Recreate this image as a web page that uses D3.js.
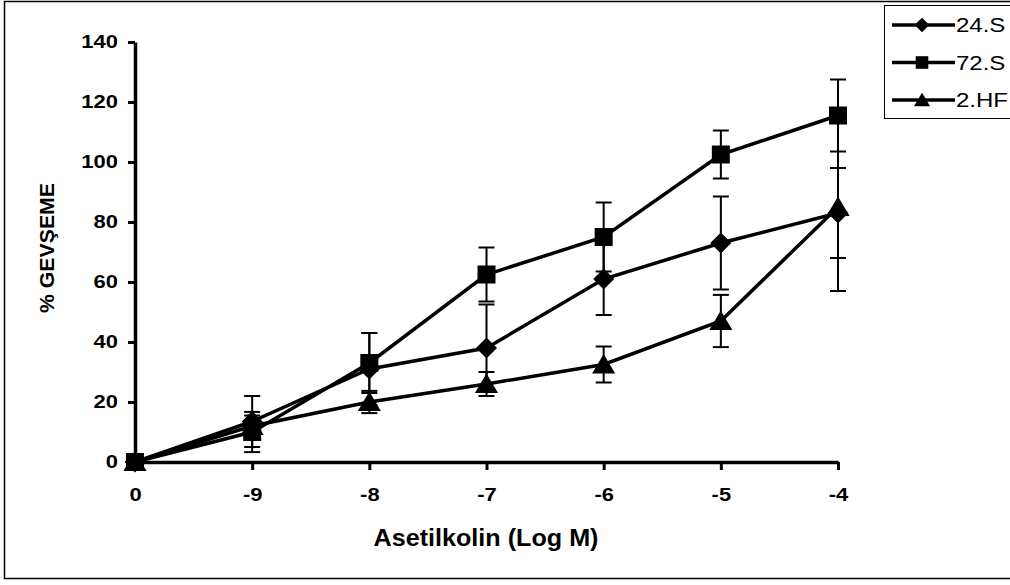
<!DOCTYPE html>
<html>
<head>
<meta charset="utf-8">
<script src="https://cdn.jsdelivr.net/npm/d3@7"></script>
<style>
  body { margin: 0; background: #fff; }
  svg { display: block; font-family: "Liberation Sans", Arial, sans-serif; }
</style>
</head>
<body>
<div id="chart"></div>
<script>
// data
var categories = ["0", "-9", "-8", "-7", "-6", "-5", "-4"];
var yTicks = [0, 20, 40, 60, 80, 100, 120, 140];
var seriesNames = ["24.S", "72.S", "2.HF"];
var s24 = [0, 13.5, 31, 38, 61, 73, 83];
var s24Err = [0, 8.5, 12, 14.5, 12, 15.5, 15];
var s72 = [0, 10, 33, 62.5, 75, 102.5, 115.5];
var s72Err = [0, 6.7, 10, 9, 11.5, 8, 12];
var sHF = [0, 12, 20, 26, 32.5, 47, 85];
var sHFErr = [0, 3.5, 3.7, 4, 6, 8.7, 28];

var width = 1010,
    height = 585;

var svg = d3.select("#chart")
    .append("svg")
    .attr("width", width)
    .attr("height", height);

// stretch text horizontally a bit, the original glyphs are wider
function widen(sel, k) {
    sel.each(function () {
        var w = this.getComputedTextLength();
        d3.select(this)
            .attr("textLength", w * k)
            .attr("lengthAdjust", "spacingAndGlyphs");
    });
}

// outer frame
svg.append("rect")
    .attr("x", 4.5)
    .attr("y", 1.5)
    .attr("width", 1010)
    .attr("height", 577)
    .attr("fill", "none")
    .attr("stroke", "#000")
    .attr("stroke-width", 1.5);

var x = d3.scalePoint()
    .domain(categories)
    .range([135, 838]);

var y = d3.scaleLinear()
    .domain([0, 140])
    .range([462, 42]);

// markers drawn as custom paths
function diamond(r) {
    return "M0," + (-r) + "L" + r + ",0L0," + r + "L" + (-r) + ",0Z";
}
function square(r) {
    return "M" + (-r) + "," + (-r) + "H" + r + "V" + r + "H" + (-r) + "Z";
}
function triangle(r) {
    return "M0," + (-r) + "L" + (r * 1.1) + "," + (r * 0.85) + "L" + (-r * 1.1) + "," + (r * 0.85) + "Z";
}

var series = [
    { name: seriesNames[0], values: s24, err: s24Err, shape: diamond(10.5) },
    { name: seriesNames[1], values: s72, err: s72Err, shape: square(9) },
    { name: seriesNames[2], values: sHF, err: sHFErr, shape: triangle(10.5) }
];

// axes
var yAxis = d3.axisLeft(y)
    .tickValues(yTicks)
    .tickSize(7)
    .tickSizeOuter(0)
    .tickPadding(10);

var gy = svg.append("g")
    .attr("transform", "translate(" + x(categories[0]) + ",0)")
    .call(yAxis);

var xAxis = d3.axisBottom(x)
    .tickSize(8)
    .tickSizeOuter(0)
    .tickPadding(18);

var gx = svg.append("g")
    .attr("transform", "translate(0," + y(0) + ")")
    .call(xAxis);

[gx, gy].forEach(function (g) {
    g.select(".domain").attr("stroke-width", 3.5);
    g.selectAll(".tick line").attr("stroke-width", 3);
    g.selectAll(".tick text")
        .attr("fill", "#000")
        .style("font-size", "18px")
        .style("font-weight", "bold")
        .call(widen, 1.22);
});

// error bars
var capW = 8;
series.forEach(function (s) {
    var g = svg.append("g");
    s.values.forEach(function (v, i) {
        if (!s.err[i]) return;
        var cx = x(categories[i]);
        var top = y(v + s.err[i]),
            bot = y(v - s.err[i]);
        g.append("line")
            .attr("x1", cx).attr("x2", cx)
            .attr("y1", top).attr("y2", bot)
            .attr("stroke", "#000").attr("stroke-width", 2);
        [top, bot].forEach(function (yy) {
            g.append("line")
                .attr("x1", cx - capW).attr("x2", cx + capW)
                .attr("y1", yy).attr("y2", yy)
                .attr("stroke", "#000").attr("stroke-width", 2);
        });
    });
});

// lines + markers
var line = d3.line()
    .x(function (d, i) { return x(categories[i]); })
    .y(function (d) { return y(d); });

series.forEach(function (s) {
    svg.append("path")
        .datum(s.values)
        .attr("d", line)
        .attr("fill", "none")
        .attr("stroke", "#000")
        .attr("stroke-width", 3.5);

    svg.selectAll(null)
        .data(s.values)
        .enter()
        .append("path")
        .attr("d", s.shape)
        .attr("transform", function (d, i) {
            return "translate(" + x(categories[i]) + "," + y(d) + ")";
        })
        .attr("fill", "#000");
});

// axis titles
svg.append("text")
    .attr("x", 486)
    .attr("y", 546)
    .attr("text-anchor", "middle")
    .style("font-size", "24px")
    .style("font-weight", "bold")
    .attr("textLength", 225)
    .attr("lengthAdjust", "spacingAndGlyphs")
    .text("Asetilkolin (Log M)");

svg.append("text")
    .attr("transform", "translate(54,248) rotate(-90)")
    .attr("text-anchor", "middle")
    .style("font-size", "21px")
    .style("font-weight", "bold")
    .attr("textLength", 130)
    .attr("lengthAdjust", "spacingAndGlyphs")
    .text("% GEVŞEME");

// legend
var legend = svg.append("g");
legend.append("rect")
    .attr("x", 884.5)
    .attr("y", 5.5)
    .attr("width", 200)
    .attr("height", 113)
    .attr("fill", "#fff")
    .attr("stroke", "#000")
    .attr("stroke-width", 1);

series.forEach(function (s, i) {
    var ly = 25 + i * 37.5;
    legend.append("line")
        .attr("x1", 892).attr("x2", 955)
        .attr("y1", ly).attr("y2", ly)
        .attr("stroke", "#000")
        .attr("stroke-width", 3.5);
    legend.append("path")
        .attr("d", s.shape)
        .attr("transform", "translate(922," + ly + ") scale(0.7)")
        .attr("fill", "#000");
    legend.append("text")
        .attr("x", 956)
        .attr("y", ly)
        .attr("dy", "0.36em")
        .style("font-size", "20px")
        .text(s.name)
        .call(widen, 1.2);
});
</script>
</body>
</html>
